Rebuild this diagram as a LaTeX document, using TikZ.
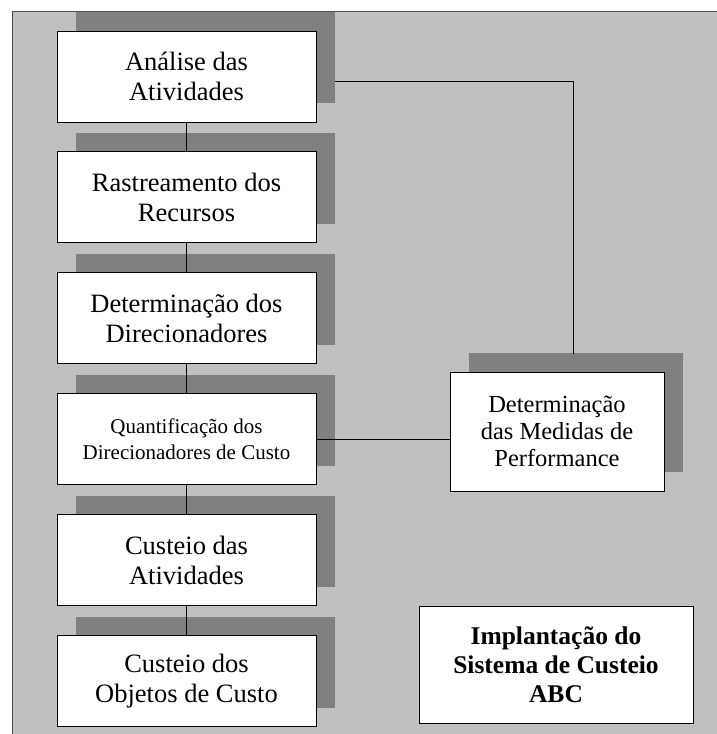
\documentclass[tikz,border=0pt]{standalone}
\usepackage{fontspec}
\setmainfont{Liberation Serif}
\usetikzlibrary{positioning,shadows}

\definecolor{fundo}{HTML}{C0C0C0}
\definecolor{sombra}{HTML}{808080}
\definecolor{moldura}{HTML}{505050}

\tikzset{
  etapa/.style={draw=black, line width=0.9pt, fill=white, align=center,
    inner sep=0pt, minimum width=259pt, minimum height=91pt,
    font=\fontsize{26.5}{30}\selectfont,
    drop shadow={shadow xshift=19pt, shadow yshift=19pt, fill=sombra, opacity=1}},
  liga/.style={draw=black, line width=0.9pt},
}

\begin{document}
\begin{tikzpicture}[x=1pt,y=-1pt]
  % page and grey frame
  \useasboundingbox (0,0) rectangle (717,734);
  \fill[fundo] (12,11) rectangle (717,734);
  \draw[moldura, line width=1pt] (12,734) -- (12,11) -- (717,11);
  % left column of steps
  \node[etapa] (ana) at (186.5,76.5) {Análise das\\Atividades};
  \node[etapa, below=29pt of ana] (ras) {Rastreamento dos\\Recursos};
  \node[etapa, below=29pt of ras] (det) {Determinação dos\\Direcionadores};
  \node[etapa, below=29pt of det, font=\fontsize{21}{26}\selectfont] (qua)
    {Quantificação dos\\Direcionadores de Custo};
  \node[etapa, below=29pt of qua] (cat) {Custeio das\\Atividades};
  \node[etapa, below=29pt of cat] (cob) {Custeio dos\\Objetos de Custo};
  % performance box
  \node[etapa, minimum width=214pt, minimum height=119pt,
    font=\fontsize{24.5}{27}\selectfont] (med) at (557,431.5)
    {Determinação\\das Medidas de\\Performance};
  % title box, no shadow
  \node[draw=black, line width=0.9pt, fill=white, align=center, inner sep=0pt,
    minimum width=274pt, minimum height=117pt,
    font=\fontsize{25.5}{29}\selectfont\bfseries] (tit) at (556,664.5)
    {Implantação do\\Sistema de Custeio\\ABC};
  % connectors
  \draw[liga] (ana) -- (ras);
  \draw[liga] (ras) -- (det);
  \draw[liga] (det) -- (qua);
  \draw[liga] (qua) -- (cat);
  \draw[liga] (cat) -- (cob);
  \draw[liga] (qua.east) -- (qua.east -| med.west);
  \coordinate (canto) at (573,81);
  \draw[liga] ([xshift=19pt]ana.east |- canto) -- (canto)
    -- ([yshift=18pt]canto |- med.north);
\end{tikzpicture}
\end{document}
